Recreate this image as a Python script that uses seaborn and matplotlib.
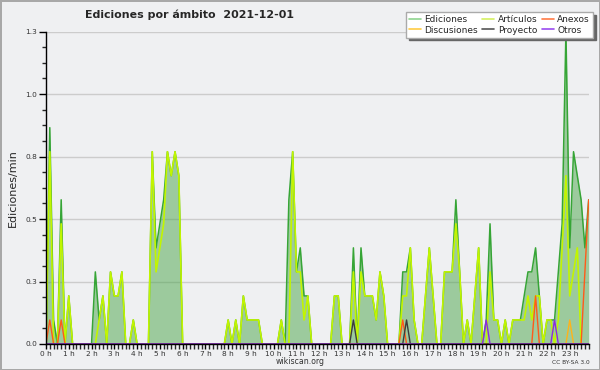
import numpy as np
import matplotlib
matplotlib.use("Agg")
import matplotlib.pyplot as plt
from matplotlib.lines import Line2D
import seaborn as sns

# edits per minute, one value per 10-minute slot (0:00 .. 23:50)
ediciones = [
    0.0, 0.9, 0.1, 0.0, 0.6, 0.0, 0.2, 0.0, 0.0, 0.0, 0.0, 0.0,
    0.0, 0.3, 0.1, 0.2, 0.0, 0.3, 0.2, 0.2, 0.3, 0.0, 0.0, 0.1,
    0.0, 0.0, 0.0, 0.0, 0.8, 0.4, 0.5, 0.6, 0.8, 0.7, 0.8, 0.7,
    0.0, 0.0, 0.0, 0.0, 0.0, 0.0, 0.0, 0.0, 0.0, 0.0, 0.0, 0.0,
    0.1, 0.0, 0.1, 0.0, 0.2, 0.1, 0.1, 0.1, 0.1, 0.0, 0.0, 0.0,
    0.0, 0.0, 0.1, 0.0, 0.6, 0.8, 0.3, 0.4, 0.2, 0.2, 0.0, 0.0,
    0.0, 0.0, 0.0, 0.0, 0.2, 0.2, 0.0, 0.0, 0.0, 0.4, 0.0, 0.4,
    0.2, 0.2, 0.2, 0.1, 0.3, 0.2, 0.0, 0.0, 0.0, 0.0, 0.3, 0.3,
    0.4, 0.1, 0.0, 0.0, 0.2, 0.4, 0.2, 0.0, 0.0, 0.3, 0.3, 0.3,
    0.6, 0.3, 0.0, 0.1, 0.0, 0.2, 0.4, 0.0, 0.1, 0.5, 0.1, 0.1,
    0.0, 0.1, 0.0, 0.1, 0.1, 0.1, 0.2, 0.3, 0.3, 0.4, 0.2, 0.0,
    0.1, 0.1, 0.1, 0.3, 0.5, 1.3, 0.4, 0.8, 0.7, 0.6, 0.4, 0.6,
]
articulos = [
    0.0, 0.8, 0.0, 0.0, 0.5, 0.0, 0.2, 0.0, 0.0, 0.0, 0.0, 0.0,
    0.0, 0.0, 0.1, 0.2, 0.0, 0.3, 0.2, 0.2, 0.3, 0.0, 0.0, 0.1,
    0.0, 0.0, 0.0, 0.0, 0.8, 0.3, 0.4, 0.5, 0.8, 0.7, 0.8, 0.7,
    0.0, 0.0, 0.0, 0.0, 0.0, 0.0, 0.0, 0.0, 0.0, 0.0, 0.0, 0.0,
    0.1, 0.0, 0.1, 0.0, 0.2, 0.1, 0.1, 0.1, 0.1, 0.0, 0.0, 0.0,
    0.0, 0.0, 0.1, 0.0, 0.0, 0.8, 0.3, 0.3, 0.1, 0.2, 0.0, 0.0,
    0.0, 0.0, 0.0, 0.0, 0.2, 0.2, 0.0, 0.0, 0.0, 0.3, 0.0, 0.3,
    0.2, 0.2, 0.2, 0.1, 0.3, 0.2, 0.0, 0.0, 0.0, 0.0, 0.2, 0.2,
    0.4, 0.1, 0.0, 0.0, 0.2, 0.4, 0.2, 0.0, 0.0, 0.3, 0.3, 0.3,
    0.5, 0.3, 0.0, 0.1, 0.0, 0.2, 0.4, 0.0, 0.0, 0.3, 0.1, 0.1,
    0.0, 0.1, 0.0, 0.1, 0.1, 0.1, 0.1, 0.2, 0.1, 0.2, 0.2, 0.0,
    0.1, 0.1, 0.0, 0.1, 0.4, 0.7, 0.2, 0.3, 0.4, 0.0, 0.0, 0.0,
]
anexos = [
    0.0, 0.1, 0.0, 0.0, 0.1, 0.0, 0.0, 0.0, 0.0, 0.0, 0.0, 0.0,
    0.0, 0.0, 0.0, 0.0, 0.0, 0.0, 0.0, 0.0, 0.0, 0.0, 0.0, 0.0,
    0.0, 0.0, 0.0, 0.0, 0.0, 0.0, 0.0, 0.0, 0.0, 0.0, 0.0, 0.0,
    0.0, 0.0, 0.0, 0.0, 0.0, 0.0, 0.0, 0.0, 0.0, 0.0, 0.0, 0.0,
    0.0, 0.0, 0.0, 0.0, 0.0, 0.0, 0.0, 0.0, 0.0, 0.0, 0.0, 0.0,
    0.0, 0.0, 0.0, 0.0, 0.0, 0.0, 0.0, 0.0, 0.0, 0.0, 0.0, 0.0,
    0.0, 0.0, 0.0, 0.0, 0.0, 0.0, 0.0, 0.0, 0.0, 0.0, 0.0, 0.0,
    0.0, 0.0, 0.0, 0.0, 0.0, 0.0, 0.0, 0.0, 0.0, 0.0, 0.1, 0.0,
    0.0, 0.0, 0.0, 0.0, 0.0, 0.0, 0.0, 0.0, 0.0, 0.0, 0.0, 0.0,
    0.0, 0.0, 0.0, 0.0, 0.0, 0.0, 0.0, 0.0, 0.0, 0.0, 0.0, 0.0,
    0.0, 0.0, 0.0, 0.0, 0.0, 0.0, 0.0, 0.0, 0.0, 0.2, 0.0, 0.0,
    0.0, 0.0, 0.0, 0.0, 0.0, 0.0, 0.0, 0.0, 0.0, 0.0, 0.3, 0.6,
]
discusiones = [0.0] * 138 + [0.1] + [0.0] * 5
proyecto = [0.0] * 81 + [0.1] + [0.0] * 13 + [0.1] + [0.0] * 48
otros = [0.0] * 116 + [0.1] + [0.0] * 17 + [0.1] + [0.0] * 9

hours = np.arange(len(ediciones)) / 6.0
hour_labels = ["%d h" % h for h in range(24)]
y_ticks = [0.0, 0.26, 0.52, 0.78, 1.04, 1.3]
y_labels = ["0.0", "0.3", "0.5", "0.8", "1.0", "1.3"]

bg = "#eff0f2"
sns.set_theme(style="ticks")
plt.rcParams["font.family"] = ["DejaVu Sans"]

fig = plt.figure(figsize=(6, 3.7), dpi=100, facecolor=bg,
                 edgecolor="#a8a8a8", linewidth=2)
ax = fig.add_axes([46 / 600, 1 - 344 / 370, (588.7 - 46) / 600, (344 - 31.5) / 370])
ax.set_facecolor(bg)

ax.fill_between(hours, ediciones, color="#4aa64a", alpha=0.5, linewidth=0, zorder=2)
sns.lineplot(x=hours, y=ediciones, ax=ax, color="#36a536", linewidth=1.1, zorder=3)
sns.lineplot(x=hours, y=articulos, ax=ax, color="#c2f500", linewidth=1.2, zorder=4)
sns.lineplot(x=hours, y=anexos, ax=ax, color="#ff5a1a", linewidth=1.0, zorder=5)
sns.lineplot(x=hours, y=discusiones, ax=ax, color="#ffb31a", linewidth=1.0, zorder=5)
sns.lineplot(x=hours, y=proyecto, ax=ax, color="#3c3c3c", linewidth=1.0, zorder=5)
sns.lineplot(x=hours, y=otros, ax=ax, color="#8a2be2", linewidth=1.0, zorder=5)

ax.set_xlim(0, hours[-1])
ax.set_ylim(0, 1.3)
ax.set_xticks(range(24))
ax.set_xticklabels(hour_labels)
ax.set_xticks(np.arange(0, hours[-1] + 0.01, 1 / 6), minor=True)
ax.set_yticks(y_ticks)
ax.set_yticklabels(y_labels)
ax.set_yticks(np.arange(0, 1.31, 0.065), minor=True)
ax.tick_params(axis="both", which="major", labelsize=5.3, colors="black",
               labelcolor="#333333", width=1, pad=1.5)
ax.tick_params(axis="x", which="both", length=3.5, direction="out")
ax.tick_params(axis="x", which="minor", width=1)
ax.tick_params(axis="y", which="major", length=5)
ax.tick_params(axis="y", which="minor", length=3, width=1)
ax.yaxis.grid(True, which="major", color="#cccccc", linewidth=1)
ax.set_axisbelow(True)
for s in ["top", "right"]:
    ax.spines[s].set_visible(False)
for s in ["left", "bottom"]:
    ax.spines[s].set_color("black")
    ax.spines[s].set_linewidth(1)
    ax.spines[s].set_zorder(6)
ax.set_xlabel("")
ax.set_ylabel("Ediciones/min", fontsize=8, labelpad=5)

fig.text(85 / 600, 1 - 18.5 / 370, "Ediciones por ámbito  2021-12-01",
         fontsize=7.9, fontweight="bold", ha="left", va="baseline")
fig.text(300 / 600, 1 - 361.5 / 370, "wikiscan.org", fontsize=5.6,
         ha="center", va="center", color="#333333")
fig.text(590 / 600, 1 - 362.5 / 370, "CC BY-SA 3.0", fontsize=4.2,
         ha="right", va="center", color="#333333")

handles = [
    Line2D([], [], color="#8fd48f", lw=1.2),
    Line2D([], [], color="#ffcc44", lw=1.2),
    Line2D([], [], color="#d4f060", lw=1.2),
    Line2D([], [], color="#555555", lw=1.2),
    Line2D([], [], color="#ff7a45", lw=1.2),
    Line2D([], [], color="#9a4cf0", lw=1.2),
]
names = ["Ediciones", "Discusiones", "Artículos", "Proyecto", "Anexos", "Otros"]
leg = fig.legend(handles, names, ncol=3, loc="upper right",
                 bbox_to_anchor=(593 / 600, 1 - 12 / 370), fontsize=6.5,
                 frameon=True, fancybox=False, shadow={"color": "#666666", "alpha": 1},
                 framealpha=1, edgecolor="#aaaaaa", handlelength=1.3,
                 handletextpad=0.4, columnspacing=0.5, labelspacing=0.15,
                 borderpad=0.35, borderaxespad=0)
leg.get_frame().set_linewidth(1)

fig.savefig("out.png", dpi=100, facecolor=bg, edgecolor="#a8a8a8")
